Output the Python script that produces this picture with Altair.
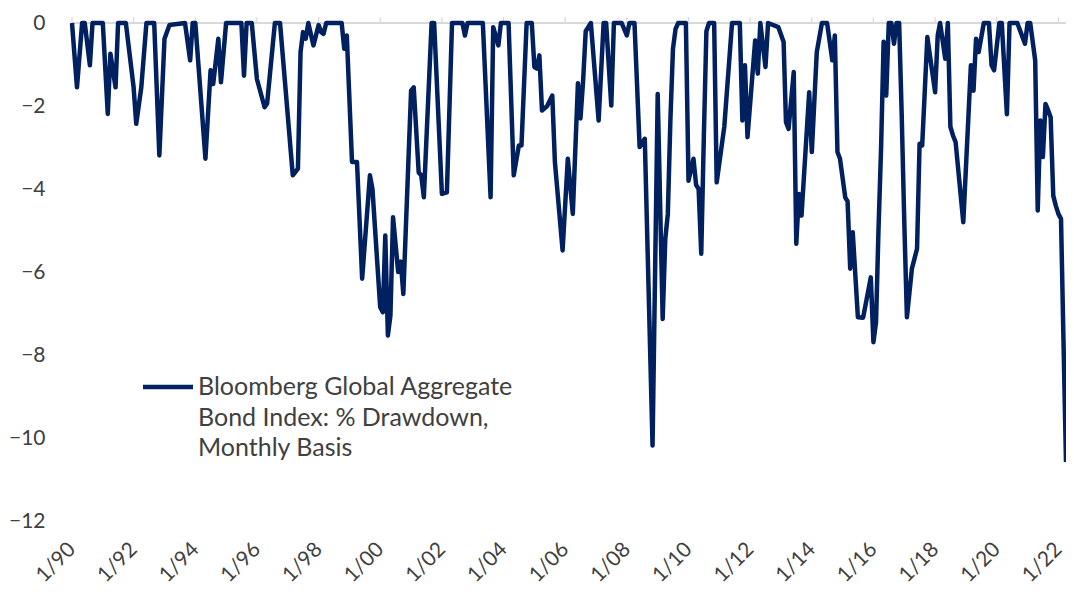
import altair as alt
import pandas as pd

# Month (first of month) and % drawdown
months = [
    "1990-01", "1990-03", "1990-05", "1990-06", "1990-08", "1990-09", "1991-01", "1991-03",
    "1991-04", "1991-06", "1991-07", "1991-10", "1992-01", "1992-02", "1992-04", "1992-06",
    "1992-09", "1992-11", "1993-01", "1993-03", "1993-09", "1993-11", "1993-12", "1994-01",
    "1994-05", "1994-07", "1994-08", "1994-10", "1994-11", "1995-01", "1995-07", "1995-08",
    "1995-09", "1995-11", "1996-01", "1996-04", "1996-05", "1996-08", "1996-10", "1997-03",
    "1997-05", "1997-06", "1997-07", "1997-08", "1997-09", "1997-11", "1998-01", "1998-02",
    "1998-03", "1998-04", "1998-10", "1998-11", "1998-12", "1999-02", "1999-04", "1999-06",
    "1999-09", "1999-10", "2000-01", "2000-02", "2000-03", "2000-04", "2000-05", "2000-06",
    "2000-08", "2000-09", "2000-10", "2001-01", "2001-02", "2001-04", "2001-05", "2001-06",
    "2001-09", "2001-10", "2002-01", "2002-03", "2002-05", "2002-09", "2002-10", "2002-11",
    "2003-05", "2003-08", "2003-09", "2003-11", "2003-12", "2004-03", "2004-05", "2004-07",
    "2004-08", "2004-10", "2004-12", "2005-01", "2005-02", "2005-03", "2005-04", "2005-06",
    "2005-08", "2005-09", "2005-12", "2006-02", "2006-04", "2006-06", "2006-07", "2006-08",
    "2006-09", "2006-11", "2007-02", "2007-04", "2007-05", "2007-07", "2007-08", "2007-11",
    "2008-01", "2008-02", "2008-04", "2008-06", "2008-08", "2008-11", "2009-01", "2009-03",
    "2009-04", "2009-05", "2009-06", "2009-07", "2009-08", "2009-09", "2009-12", "2010-01",
    "2010-03", "2010-04", "2010-05", "2010-06", "2010-07", "2010-08", "2010-09", "2010-11",
    "2010-12", "2011-03", "2011-06", "2011-09", "2011-10", "2011-11", "2011-12", "2012-03",
    "2012-04", "2012-05", "2012-07", "2012-08", "2012-12", "2013-02", "2013-03", "2013-04",
    "2013-06", "2013-07", "2013-08", "2013-09", "2013-12", "2014-01", "2014-03", "2014-05",
    "2014-07", "2014-09", "2014-10", "2014-11", "2014-12", "2015-02", "2015-03", "2015-04",
    "2015-05", "2015-07", "2015-09", "2015-12", "2016-01", "2016-02", "2016-03", "2016-04",
    "2016-05", "2016-06", "2016-07", "2016-08", "2016-09", "2016-10", "2016-11", "2016-12",
    "2017-01", "2017-02", "2017-04", "2017-06", "2017-07", "2017-08", "2017-10", "2018-01",
    "2018-02", "2018-03", "2018-05", "2018-06", "2018-07", "2018-08", "2018-09", "2018-12",
    "2019-03", "2019-04", "2019-05", "2019-06", "2019-08", "2019-10", "2019-11", "2019-12",
    "2020-02", "2020-03", "2020-05", "2020-06", "2020-09", "2020-12", "2021-01", "2021-02",
    "2021-04", "2021-05", "2021-06", "2021-07", "2021-08", "2021-09", "2021-10", "2021-11",
    "2021-12", "2022-01", "2022-02", "2022-03", "2022-04",
]

drawdown = [
    0, -1.55, 0, 0, -1.02, 0, 0, -2.19,
    -0.74, -1.55, 0, 0, -1.55, -2.43, -1.55, 0,
    0, -3.19, -0.38, -0.05, 0, -0.9, 0, 0,
    -3.27, -1.14, -1.47, -0.38, -1.43, 0, 0, -1.27,
    0, 0, -1.35, -2.03, -1.94, 0, 0, -3.67,
    -3.51, -0.70, -0.22, -0.38, 0, -0.54, -0.05, -0.22,
    -0.26, 0, 0, -0.62, -0.3, -3.35, -3.35, -6.16,
    -3.67, -4.0, -6.85, -6.97, -5.12, -7.53, -7.05, -4.68,
    -6.0, -5.75, -6.53, -1.63, -1.55, -3.6, -3.67, -4.2,
    0, 0, -4.12, -4.08, 0, 0, -0.3, 0,
    0, -4.2, -0.1, -0.54, 0, 0, -3.67, -2.95,
    -2.95, 0, 0, -1.06, -1.1, -0.78, -2.11, -2.0,
    -1.75, -3.35, -5.48, -3.27, -4.6, -1.45, -2.3, -1.4,
    -0.2, 0, -2.35, 0, 0, -1.99, 0, 0,
    -0.3, 0, 0, -2.99, -2.79, -10.18, -1.71, -7.13,
    -5.2, -4.6, -2.3, -0.62, -0.14, 0, 0, -3.8,
    -3.27, -3.9, -4.0, -5.56, -2.8, -0.2, 0, 0,
    -3.84, -2.5, 0, 0, -2.35, -1.02, -2.75, -0.42,
    -1.22, 0, -1.06, 0, -0.1, -0.46, -2.39, -2.55,
    -1.18, -5.32, -4.12, -4.64, -1.67, -3.11, -0.7, 0,
    0, -0.9, -0.3, -3.11, -3.27, -4.2, -4.3, -5.92,
    -5.04, -7.09, -7.1, -6.13, -7.69, -7.21, -5.0, -3.0,
    -0.45, -1.75, 0, 0, -0.5, 0, 0, -2.2,
    -4.8, -7.09, -5.92, -5.44, -2.91, -2.95, -0.34, -1.67,
    -0.3, 0, -0.86, 0, -2.5, -2.71, -2.87, -4.8,
    -1.02, -1.63, -0.38, -0.7, 0, 0, -1.02, -1.14,
    0, 0, -2.2, 0, 0, -0.5, 0, 0,
    -0.9, -4.52, -2.35, -3.23, -1.95, -2.1, -2.27, -4.16,
    -4.4, -4.6, -4.72, -7.53, -10.58,
]

tick_years = list(range(1990, 2023, 2))
y_ticks = [0, -2, -4, -6, -8, -10, -12]
legend_lines = ["Bloomberg Global Aggregate", "Bond Index: % Drawdown,", "Monthly Basis"]

NAVY = "#002060"
GREY_TEXT = "#404040"
AXIS_GREY = "#d9d9d9"
FONT = "Lato"

df = pd.DataFrame({"date": [m + "-01" for m in months], "value": drawdown})
ticks_df = pd.DataFrame({"date": [f"{y}-01-01" for y in tick_years], "zero": [0] * len(tick_years)})

tick_dates = [alt.DateTime(year=y, month=1, date=1, utc=True) for y in tick_years]
x_scale = alt.Scale(
    type="utc",
    domain=[alt.DateTime(year=1990, month=1, date=1, utc=True),
            alt.DateTime(year=2022, month=4, date=1, utc=True)],
)
y_scale = alt.Scale(domain=[-12, 0], nice=False, zero=False)

x_axis = alt.Axis(values=tick_dates, labelExpr="utcFormat(datum.value, '%-m/%y')",
                  title=None, domain=False, ticks=False, tickSize=0, grid=False,
                  labelAngle=-45, labelAlign="right", labelBaseline="middle",
                  labelPadding=25, labelFontSize=21, labelColor=GREY_TEXT,
                  labelFont=FONT, labelOverlap=False, labelBound=False, labelFlush=False)
y_axis = alt.Axis(values=y_ticks, title=None, domain=False, ticks=False, grid=False,
                  labelFontSize=21, labelColor=GREY_TEXT, labelFont=FONT,
                  labelPadding=27, labelAlign="right")

line = alt.Chart(df).mark_line(color=NAVY, strokeWidth=4.5, strokeJoin="round").encode(
    x=alt.X("date:T", scale=x_scale, axis=x_axis),
    y=alt.Y("value:Q", scale=y_scale, axis=y_axis),
)

# grey horizontal axis line at zero, with small upward tick marks every two years
zero_line = alt.Chart(ticks_df).mark_rule(color=AXIS_GREY, strokeWidth=1.5).encode(
    y=alt.Y("zero:Q", scale=y_scale, axis=y_axis), x=alt.value(0), x2=alt.value(994)
)
zero_ticks = alt.Chart(ticks_df).mark_rule(color=AXIS_GREY, strokeWidth=1.2).encode(
    x=alt.X("date:T", scale=x_scale, axis=x_axis),
    y=alt.Y("zero:Q", scale=y_scale, axis=y_axis),
    y2=alt.value(-6),
)

legend_df = pd.DataFrame({"series": [legend_lines[0]]})

legend_rule = alt.Chart(legend_df).mark_rule(color=NAVY, strokeWidth=4.5).encode(
    x=alt.value(71), x2=alt.value(121), y=alt.value(364)
)

legend_text = alt.Chart(legend_df).mark_text(
    align="left", baseline="top", fontSize=25, font=FONT, color=GREY_TEXT, lineHeight=30.5
).encode(
    x=alt.value(126), y=alt.value(352), text=alt.value(legend_lines)
)

chart = alt.layer(zero_line, zero_ticks, line, legend_rule, legend_text).properties(
    width=994,
    height=498,
    autosize=alt.AutoSizeParams(type="none"),
    padding={"left": 64, "top": 15, "right": 0, "bottom": 67},
).configure(background="white", font=FONT).configure_view(stroke=None)

chart.save("out.html", embed_options={"renderer": "svg", "actions": False})
